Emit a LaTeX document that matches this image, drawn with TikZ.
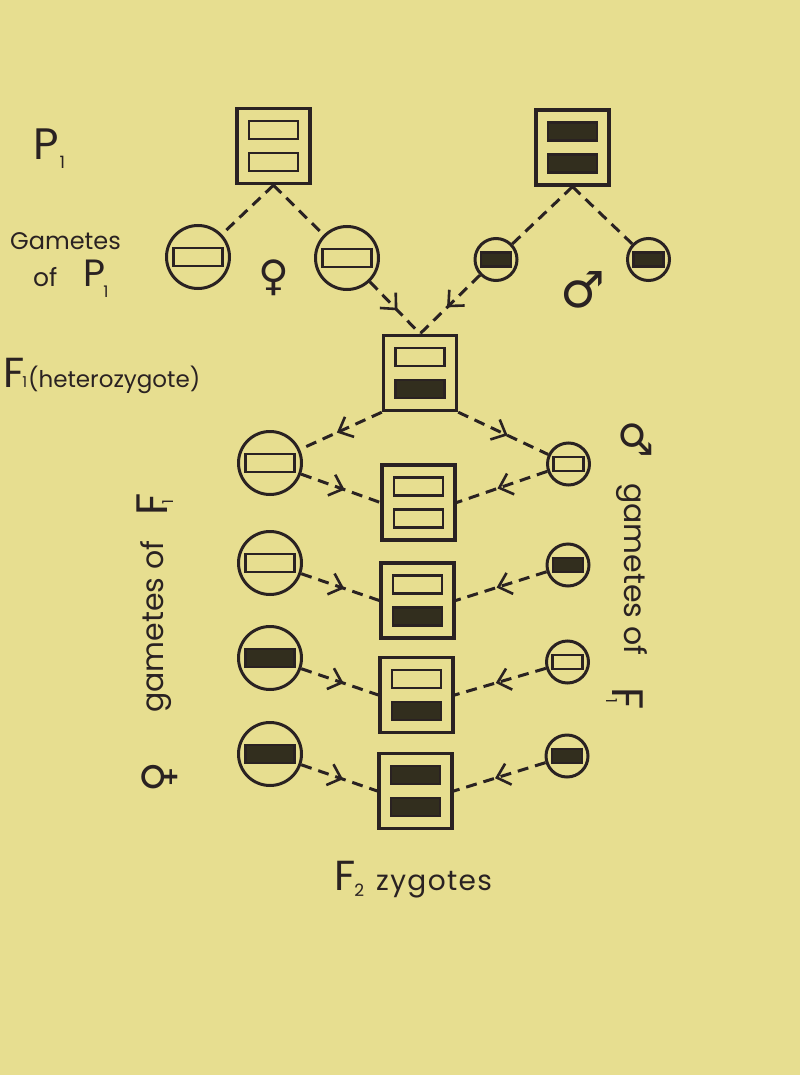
\documentclass[tikz,border=0pt]{standalone}
\usepackage{fontspec}
\setmainfont{Poppins}
\newfontfamily\symfont{DejaVu Sans}
\usetikzlibrary{arrows.meta,decorations.markings}

\definecolor{paper}{RGB}{231,222,144}
\definecolor{ink}{RGB}{42,34,34}
\definecolor{gene}{RGB}{50,46,30}

\tikzstyle{zygote} = [draw=ink, line width=3.4pt, minimum width=73pt, minimum height=75pt, inner sep=0pt]
\tikzstyle{egg} = [circle, draw=ink, line width=3pt, minimum size=63pt, inner sep=0pt]
\tikzstyle{sperm} = [circle, draw=ink, line width=3pt, minimum size=42pt, inner sep=0pt]
\tikzstyle{bar} = [draw=ink, line width=2.8pt, minimum width=49pt, minimum height=18pt, inner sep=0pt]
\tikzstyle{minibar} = [draw=ink, line width=2.6pt, minimum width=30pt, minimum height=14pt, inner sep=0pt]
\tikzstyle{link} = [ink, line width=3pt, dash pattern=on 11pt off 7pt]
\tikzstyle{linkarrow} = [link, postaction={decorate},
    decoration={markings, mark=at position 0.55 with {\arrow[ink, line width=2.6pt]{Straight Barb[length=12pt, width=22pt]}}}]
\tikzstyle{lbl} = [text=ink, inner sep=0pt]
\def\bargap{16pt}

% two chromosomes inside a zygote box
\newcommand{\zygbars}[3]{
    \node[bar, fill=#2] (#1-top) at ([yshift=\bargap]#1.center) {};
    \node[bar, fill=#3] (#1-bot) at ([yshift=-\bargap]#1.center) {};
}

\begin{document}
\begin{tikzpicture}[x=1pt, y=-1pt]
    \fill[paper] (0,0) rectangle (800,1075);
    \useasboundingbox (0,0) rectangle (800,1075);

    % parents
    \node[zygote] (p1f) at (273.5,146) {};
    \zygbars{p1f}{paper}{paper}
    \node[zygote] (p1m) at (572.5,147.5) {};
    \zygbars{p1m}{gene}{gene}

    % gametes of the parents
    \node[egg] (pf1) at (198,257) {};
    \node[bar, fill=paper] (pf1-bar) at (pf1) {};
    \node[egg] (pf2) at (347,258) {};
    \node[bar, fill=paper] (pf2-bar) at (pf2) {};
    \node[sperm] (pm1) at (496,259.5) {};
    \node[minibar, fill=gene] (pm1-bar) at (pm1) {};
    \node[sperm] (pm2) at (648.5,259.5) {};
    \node[minibar, fill=gene] (pm2-bar) at (pm2) {};

    % heterozygote
    \node[zygote] (f1) at (420,373) {};
    \zygbars{f1}{paper}{gene}

    % gametes of F1 and the F2 zygotes
    \node[egg] (fe1) at (270,463) {};
    \node[bar, fill=paper] (fe1-bar) at (fe1) {};
    \node[egg] (fe2) at (270,563) {};
    \node[bar, fill=paper] (fe2-bar) at (fe2) {};
    \node[egg] (fe3) at (270,658) {};
    \node[bar, fill=gene] (fe3-bar) at (fe3) {};
    \node[egg] (fe4) at (270,754) {};
    \node[bar, fill=gene] (fe4-bar) at (fe4) {};

    \node[sperm] (fm1) at (568.5,464) {};
    \node[minibar, fill=paper] (fm1-bar) at (fm1) {};
    \node[sperm] (fm2) at (568,565) {};
    \node[minibar, fill=gene] (fm2-bar) at (fm2) {};
    \node[sperm] (fm3) at (567.5,662) {};
    \node[minibar, fill=paper] (fm3-bar) at (fm3) {};
    \node[sperm] (fm4) at (567,756) {};
    \node[minibar, fill=gene] (fm4-bar) at (fm4) {};

    \node[zygote] (z1) at (418.5,502.5) {};
    \zygbars{z1}{paper}{paper}
    \node[zygote] (z2) at (417.5,600.5) {};
    \zygbars{z2}{paper}{gene}
    \node[zygote] (z3) at (416.5,695) {};
    \zygbars{z3}{paper}{gene}
    \node[zygote] (z4) at (415.5,791) {};
    \zygbars{z4}{gene}{gene}

    % connectors
    \draw[link] (p1f.south) -- (pf1);
    \draw[link] (p1f.south) -- (pf2);
    \draw[link] (p1m.south) -- (pm1);
    \draw[link] (p1m.south) -- (pm2);
    \draw[linkarrow] (pf2) -- (f1.north);
    \draw[linkarrow] (pm1) -- (f1.north);
    \draw[linkarrow] (f1.south west) -- (fe1);
    \draw[linkarrow] (f1.south east) -- (fm1);
    \foreach \i in {1,...,4} {
        \draw[linkarrow] (fe\i) -- (z\i.west);
        \draw[linkarrow] (fm\i) -- (z\i.east);
    }

    % sex symbols
    \node[lbl, font=\symfont\fontsize{42}{42}\selectfont] (femsym) at (273.5,277.5) {♀};
    \node[lbl, font=\symfont\fontsize{50}{50}\selectfont] (malesym) at (583,290) {♂};

    % labels on the left
    \node[lbl, anchor=base west, font=\fontsize{44}{44}\selectfont] (p1lab) at (33,160)
        {P\kern1pt\raisebox{-9pt}{\fontsize{17}{17}\selectfont 1}};
    \node[lbl, anchor=base west, font=\fontsize{24}{30}\selectfont] (gamlab) at (10,250) {Gametes};
    \node[lbl, anchor=base west, font=\fontsize{25}{30}\selectfont] (oflab) at (33,286)
        {of\hspace{26pt}{\fontsize{38}{38}\selectfont P}\kern-2pt\raisebox{-11pt}{\fontsize{16}{16}\selectfont 1}};
    \node[lbl, anchor=base west, font=\fontsize{42}{42}\selectfont] (f1lab) at (3,387)
        {F\kern-2pt\raisebox{0pt}{\fontsize{15}{15}\selectfont 1}\kern1pt{\fontsize{23}{28}\selectfont(heterozygote)}};

    % vertical labels
    \node[lbl, rotate=90, anchor=base west, font=\fontsize{30}{30}\selectfont] (lgam) at (163,713) {gametes of};
    \node[lbl, rotate=90, font=\symfont\fontsize{42}{42}\selectfont] (lfem) at (160,777) {♀};
    \node[lbl, rotate=90, anchor=base west, font=\fontsize{44}{44}\selectfont] (lf1) at (167,516)
        {F\kern-11pt\raisebox{-6pt}{\fontsize{15}{15}\selectfont 1}};
    \node[lbl, rotate=-90, anchor=base west, font=\fontsize{30}{30}\selectfont] (rgam) at (624,483) {gametes of};
    \node[lbl, rotate=-90, font=\symfont\fontsize{42}{42}\selectfont] (rmale) at (636,439) {♂};
    \node[lbl, rotate=-90, anchor=base west, font=\fontsize{44}{44}\selectfont] (rf1) at (612,687)
        {F\kern-11pt\raisebox{-6pt}{\fontsize{15}{15}\selectfont 1}};

    % bottom label
    \node[lbl, anchor=base west, font=\fontsize{42}{42}\selectfont] (f2lab) at (334,890)
        {F\kern-1pt\raisebox{-6pt}{\fontsize{17}{17}\selectfont 2}\kern12pt{\fontsize{28}{30}\selectfont\addfontfeature{LetterSpace=5}zygotes}};
\end{tikzpicture}
\end{document}
